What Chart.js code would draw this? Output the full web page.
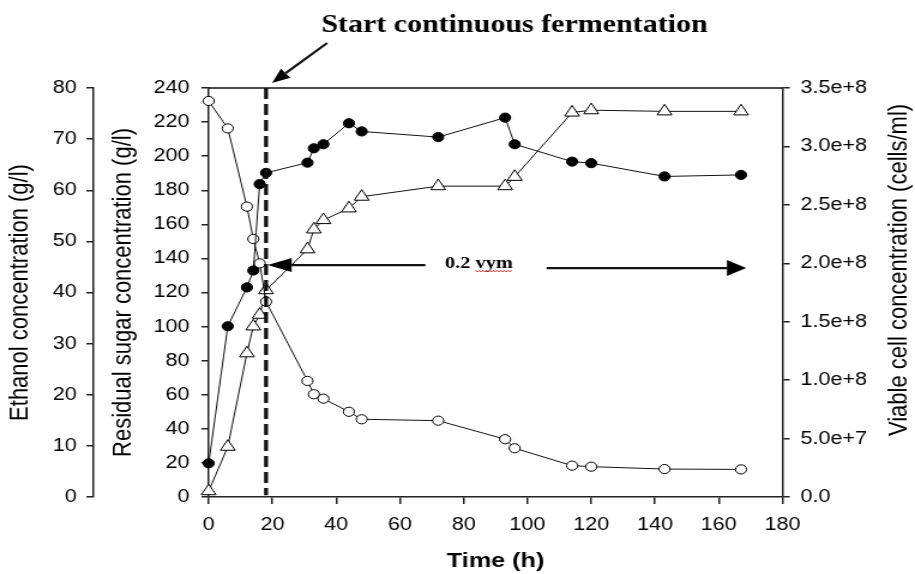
<!DOCTYPE html>
<html>
<head>
<meta charset="utf-8">
<script src="https://cdn.jsdelivr.net/npm/chart.js@4.4.1/dist/chart.umd.min.js"></script>
<style>
  html, body { margin: 0; padding: 0; background: #fff; }
  #chart { display: block; }
</style>
</head>
<body>
<!-- the original figure is stretched sideways, so the canvas is drawn narrow and widened by css -->
<canvas id="chart" width="763" height="574" style="width:915px;height:574px"></canvas>
<script>
// sampling times (h)
const timeHours = [0, 6, 12, 14, 16, 18, 31, 33, 36, 44, 48, 72, 93, 96, 114, 120, 143, 167];
// ethanol (g/l), filled circles
const ethanolGL = [6.6, 33.4, 41.0, 44.3, 61.2, 63.4, 65.4, 68.2, 69.0, 73.1, 71.5, 70.4, 74.2, 69.0, 65.6, 65.3, 62.7, 63.0];
// residual sugar (g/l), open circles
const sugarGL = [232.4, 216.3, 170.4, 151.4, 137.1, 114.6, 68.1, 60.3, 57.7, 50.0, 45.6, 44.8, 33.9, 28.6, 18.4, 17.8, 16.4, 16.2];
// viable cells (cells/ml), triangles
const viableCells = [0.05e8, 0.43e8, 1.23e8, 1.46e8, 1.56e8, 1.77e8, 2.12e8, 2.29e8, 2.37e8, 2.47e8, 2.57e8, 2.66e8, 2.66e8, 2.74e8, 3.29e8, 3.31e8, 3.30e8, 3.30e8];

const cellTickLabels = ['0.0', '5.0e+7', '1.0e+8', '1.5e+8', '2.0e+8', '2.5e+8', '3.0e+8', '3.5e+8'];

// annotation values
const startContinuous = 18;       // h, dashed line
const aerationLabel = '0.2 vym';
const aerationLevel = 135.5;      // on the sugar axis
const leftArrowFrom = 68, leftArrowTo = 18.5;
const rightArrowFrom = 106, rightArrowTo = 168.6;

const pts = (ys) => timeHours.map((t, i) => ({ x: t, y: ys[i] }));

Chart.defaults.font.family = '"Liberation Sans", Arial, sans-serif';
Chart.defaults.color = '#000';

function drawArrow(ctx, x1, y1, x2, y2, len, half, width) {
  const a = Math.atan2(y2 - y1, x2 - x1);
  const bx = x2 - Math.cos(a) * len, by = y2 - Math.sin(a) * len;
  ctx.lineWidth = width;
  ctx.beginPath();
  ctx.moveTo(x1, y1);
  ctx.lineTo(bx, by);
  ctx.stroke();
  ctx.beginPath();
  ctx.moveTo(x2, y2);
  ctx.lineTo(bx + Math.sin(a) * half, by - Math.cos(a) * half);
  ctx.lineTo(bx - Math.sin(a) * half, by + Math.cos(a) * half);
  ctx.closePath();
  ctx.fill();
}

const overlay = {
  id: 'overlay',
  afterDraw(chart) {
    const ctx = chart.ctx;
    const area = chart.chartArea;
    const xs = chart.scales.x, ys = chart.scales.ySugar;
    ctx.save();
    ctx.strokeStyle = '#111';
    ctx.fillStyle = '#111';

    // top frame line
    ctx.lineWidth = 1.5;
    ctx.beginPath();
    ctx.moveTo(area.left, area.top);
    ctx.lineTo(area.right, area.top);
    ctx.stroke();

    // heading and its arrow
    ctx.fillStyle = '#000';
    ctx.font = 'bold 25px "Liberation Serif", "Times New Roman", serif';
    ctx.textAlign = 'center';
    ctx.textBaseline = 'alphabetic';
    ctx.fillText('Start continuous fermentation', 429, 32);
    const tipX = xs.getPixelForValue(startContinuous) + 5;
    drawArrow(ctx, tipX + 46, area.top - 45, tipX, area.top - 5, 15, 6, 2.2);

    // aeration arrows
    const ay = ys.getPixelForValue(aerationLevel);
    drawArrow(ctx, xs.getPixelForValue(leftArrowFrom), ay - 1, xs.getPixelForValue(leftArrowTo), ay - 1, 20, 7, 2.4);
    drawArrow(ctx, xs.getPixelForValue(rightArrowFrom), ay + 2, xs.getPixelForValue(rightArrowTo), ay + 2, 16, 8, 2.4);

    ctx.font = 'bold 17px "Liberation Serif", "Times New Roman", serif';
    ctx.textAlign = 'left';
    const tw = ctx.measureText(aerationLabel).width;
    const tx = xs.getPixelForValue(84.8) - tw / 2;
    ctx.fillText(aerationLabel, tx, ay + 1.5);
    // red spell-check squiggle under the unit
    const ux = tx + ctx.measureText('0.2 ').width;
    ctx.strokeStyle = '#e02020';
    ctx.lineWidth = 1;
    ctx.beginPath();
    for (let x = ux, k = 0; x <= tx + tw; x += 1.5, k++) {
      const y = ay + 4.5 + (k % 2 ? 1.3 : -0.3);
      if (k === 0) ctx.moveTo(x, y); else ctx.lineTo(x, y);
    }
    ctx.stroke();

    // right axis title reads bottom-to-top
    ctx.fillStyle = '#000';
    ctx.font = '22px "Liberation Sans", Arial, sans-serif';
    ctx.textAlign = 'center';
    ctx.textBaseline = 'middle';
    ctx.translate(750, 270);
    ctx.rotate(-Math.PI / 2);
    ctx.fillText('Viable cell concentration (cells/ml)', 0, 0);
    ctx.restore();
  }
};

const tickGrid = (len) => ({ drawOnChartArea: false, drawTicks: true, tickLength: len, color: '#222', lineWidth: 1.5 });
const axisBorder = { color: '#222', width: 1.5 };

new Chart(document.getElementById('chart'), {
  type: 'line',
  data: {
    datasets: [
      {
        data: [{ x: startContinuous, y: 240 }, { x: startContinuous, y: 1 }],
        yAxisID: 'ySugar', borderColor: '#111', borderWidth: 3.3, borderDash: [11, 5],
        pointRadius: 0
      },
      {
        label: 'Ethanol', data: pts(ethanolGL), yAxisID: 'yEth',
        borderColor: '#111', borderWidth: 1, pointStyle: 'circle', pointRadius: 4.6,
        pointBackgroundColor: '#000', pointBorderColor: '#000', pointBorderWidth: 1
      },
      {
        label: 'Residual sugar', data: pts(sugarGL), yAxisID: 'ySugar',
        borderColor: '#111', borderWidth: 1, pointStyle: 'circle', pointRadius: 4.6,
        pointBackgroundColor: '#fff', pointBorderColor: '#000', pointBorderWidth: 1
      },
      {
        label: 'Viable cells', data: pts(viableCells), yAxisID: 'yCell',
        borderColor: '#111', borderWidth: 1, pointStyle: 'triangle', pointRadius: 7.1,
        pointBackgroundColor: '#fff', pointBorderColor: '#000', pointBorderWidth: 1
      }
    ]
  },
  options: {
    responsive: false,
    devicePixelRatio: 1,
    animation: false,
    clip: false,
    layout: { padding: { top: 88, left: 0, right: 0, bottom: 0 } },
    plugins: { legend: { display: false }, tooltip: { enabled: false } },
    elements: { line: { tension: 0 } },
    scales: {
      x: {
        type: 'linear', position: 'bottom', min: 0, max: 180,
        ticks: { stepSize: 20, padding: 10, maxRotation: 0, font: { size: 18 }, color: '#000' },
        grid: tickGrid(7),
        border: axisBorder,
        title: { display: true, text: 'Time (h)', color: '#000', font: { size: 21, weight: 'bold' }, padding: { top: 0, bottom: 0 } },
        afterFit: (s) => { s.height = 77; }
      },
      ySugar: {
        position: 'left', min: 0, max: 240,
        ticks: { stepSize: 20, padding: 10, font: { size: 18 }, color: '#000' },
        grid: tickGrid(6),
        border: axisBorder,
        title: { display: true, text: 'Residual sugar concentration (g/l)', color: '#000', font: { size: 22 }, padding: { top: 12, bottom: 0 } },
        afterFit: (s) => { s.width = 96; }
      },
      yEth: {
        position: 'left', min: 0, max: 80,
        ticks: { stepSize: 10, padding: 8, font: { size: 18 }, color: '#000' },
        grid: tickGrid(6),
        border: axisBorder,
        title: { display: true, text: 'Ethanol concentration (g/l)', color: '#000', font: { size: 22 }, padding: { top: 3.5, bottom: 0 } },
        afterFit: (s) => { s.width = 78; }
      },
      yCell: {
        position: 'right', min: 0, max: 3.5e8,
        ticks: { stepSize: 0.5e8, padding: 9, font: { size: 18 }, color: '#000', callback: (v, i) => cellTickLabels[i] },
        grid: tickGrid(6),
        border: axisBorder,
        afterFit: (s) => { s.width = 110.5; }
      }
    }
  },
  plugins: [overlay]
});
</script>
</body>
</html>
